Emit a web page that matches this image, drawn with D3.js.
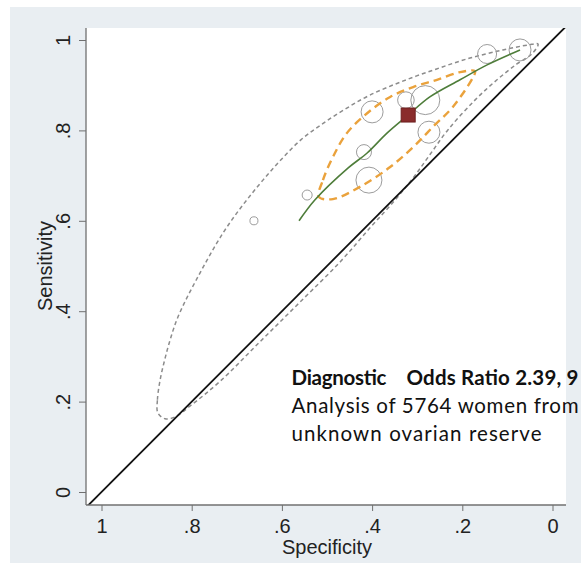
<!DOCTYPE html>
<html>
<head>
<meta charset="utf-8">
<script src="https://cdn.jsdelivr.net/npm/d3@7"></script>
<style>
  html, body { margin: 0; padding: 0; background: #ffffff; overflow: hidden; }
  svg { display: block; }
</style>
</head>
<body>
<svg id="chart" width="581" height="563"></svg>
<script>
// Individual studies: specificity, sensitivity and number of women
const studySpec = [0.662, 0.544, 0.418, 0.407, 0.400, 0.325, 0.282, 0.274, 0.145, 0.072];
const studySens = [0.600, 0.657, 0.752, 0.690, 0.841, 0.867, 0.867, 0.796, 0.969, 0.978];
const studyN    = [91, 142, 319, 958, 686, 390, 1192, 686, 512, 686];

// Summary operating point
const summarySpec = 0.320;
const summarySens = 0.834;

// HSROC summary curve
const srocSpec = [0.562, 0.527, 0.453, 0.411, 0.367, 0.320, 0.272, 0.205, 0.145, 0.072];
const srocSens = [0.600, 0.646, 0.717, 0.750, 0.794, 0.834, 0.874, 0.912, 0.945, 0.978];

// 95% confidence region around the summary point
const confSpec = [0.518, 0.509, 0.487, 0.456, 0.411, 0.360, 0.309, 0.256, 0.205, 0.172,
                  0.176, 0.221, 0.265, 0.309, 0.360, 0.427, 0.487];
const confSens = [0.653, 0.690, 0.741, 0.794, 0.838, 0.874, 0.896, 0.912, 0.929, 0.931,
                  0.918, 0.852, 0.808, 0.763, 0.719, 0.675, 0.648];

// 95% prediction region (outer edge, then inner edge back to the lower tip)
const predSpec = [0.875, 0.876, 0.870, 0.860, 0.848, 0.833, 0.813, 0.790, 0.766, 0.740,
                  0.711, 0.678, 0.642, 0.602, 0.558, 0.511, 0.460, 0.405, 0.332, 0.257,
                  0.183, 0.110, 0.054, 0.032,
                  0.046, 0.079, 0.123, 0.172, 0.232, 0.272, 0.309, 0.349, 0.405, 0.471,
                  0.560, 0.649, 0.737, 0.804, 0.837, 0.859];
const predSens = [0.175, 0.204, 0.248, 0.292, 0.336, 0.381, 0.425, 0.469, 0.513, 0.558,
                  0.602, 0.646, 0.690, 0.735, 0.779, 0.814, 0.847, 0.878, 0.909, 0.936,
                  0.960, 0.978, 0.989, 0.991,
                  0.969, 0.947, 0.912, 0.867, 0.801, 0.746, 0.695, 0.646, 0.584, 0.509,
                  0.420, 0.332, 0.245, 0.190, 0.166, 0.162];

// Axis ticks
const tickValues = [0, 0.2, 0.4, 0.6, 0.8, 1];
const tickLabels = ["0", ".2", ".4", ".6", ".8", "1"];

// Annotation text
const noteHead = "Diagnostic";
const noteLine1 = "Odds Ratio 2.39, 9";
const noteLine2 = "Analysis of 5764 women from";
const noteLine3 = "unknown ovarian reserve";

const svg = d3.select("#chart");
const W = 581, H = 563;
const plot = { left: 86, top: 28, right: 566, bottom: 505 };

const x = d3.scaleLinear().domain([1, 0]).range([101.5, 552.5]);
const y = d3.scaleLinear().domain([0, 1]).range([492, 40]);
const r = d3.scaleSqrt().domain([0, d3.max(studyN)]).range([0, 14.5]);

// Backgrounds
svg.append("rect").attr("x", 0).attr("y", 0).attr("width", W).attr("height", H).attr("fill", "#ffffff");
svg.append("rect").attr("x", 10).attr("y", 7).attr("width", W - 10).attr("height", H - 7).attr("fill", "#e9eef2");
svg.append("rect").attr("x", plot.left).attr("y", plot.top)
  .attr("width", plot.right - plot.left).attr("height", plot.bottom - plot.top).attr("fill", "#ffffff");

svg.append("clipPath").attr("id", "plotClip").append("rect")
  .attr("x", plot.left).attr("y", plot.top)
  .attr("width", plot.right - plot.left).attr("height", plot.bottom - plot.top);

const g = svg.append("g").attr("clip-path", "url(#plotClip)");

const zip = (a, b) => a.map((v, i) => [v, b[i]]);
const lineOpen = d3.line().x(d => x(d[0])).y(d => y(d[1])).curve(d3.curveCatmullRom.alpha(0.5));
const lineClosed = d3.line().x(d => x(d[0])).y(d => y(d[1])).curve(d3.curveCatmullRomClosed.alpha(0.5));

// Prediction region
g.append("path").attr("d", lineClosed(zip(predSpec, predSens)))
  .attr("fill", "none").attr("stroke", "#8c8c8c").attr("stroke-width", 1.5)
  .attr("stroke-dasharray", "4,3");

// Chance line
g.append("path").attr("d", d3.line().x(d => x(d[0])).y(d => y(d[1]))([[1.06, -0.06], [-0.06, 1.06]]))
  .attr("stroke", "#111111").attr("stroke-width", 1.8).attr("fill", "none");

// Study estimates
g.selectAll("circle.study").data(studySpec.map((s, i) => ({ s, e: studySens[i], n: studyN[i] })))
  .join("circle").attr("class", "study")
  .attr("cx", d => x(d.s)).attr("cy", d => y(d.e)).attr("r", d => r(d.n))
  .attr("fill", "none").attr("stroke", "#9c9c9c").attr("stroke-width", 1);

// Confidence region
g.append("path").attr("d", lineClosed(zip(confSpec, confSens)))
  .attr("fill", "none").attr("stroke", "#eaa23c").attr("stroke-width", 2.4)
  .attr("stroke-dasharray", "8,5");

// SROC curve
g.append("path").attr("d", lineOpen(zip(srocSpec, srocSens)))
  .attr("fill", "none").attr("stroke", "#4e7d3a").attr("stroke-width", 1.6);

// Summary point
const sq = 14;
g.append("rect").attr("x", x(summarySpec) - sq / 2).attr("y", y(summarySens) - sq / 2)
  .attr("width", sq).attr("height", sq).attr("fill", "#8a2c2c").attr("stroke", "#6e1f1f").attr("stroke-width", 1);

// Axes
const fmt = d => tickLabels[tickValues.indexOf(d)];
const axisFont = "'Liberation Sans', Arial, sans-serif";

const yAxis = svg.append("g").attr("transform", `translate(${plot.left},0)`)
  .call(d3.axisLeft(y).tickValues(tickValues).tickFormat(fmt).tickSize(7).tickSizeOuter(0));
yAxis.select(".domain").remove();
yAxis.selectAll(".tick line").attr("stroke", "#707070");
yAxis.selectAll(".tick text")
  .attr("x", 0).attr("y", 0).attr("dy", 0)
  .attr("transform", "translate(-16,0) rotate(-90)")
  .attr("text-anchor", "middle")
  .attr("font-family", axisFont).attr("font-size", 20).attr("fill", "#222");

const xAxis = svg.append("g").attr("transform", `translate(0,${plot.bottom})`)
  .call(d3.axisBottom(x).tickValues(tickValues).tickFormat(fmt).tickSize(6).tickPadding(8).tickSizeOuter(0));
xAxis.select(".domain").remove();
xAxis.selectAll(".tick line").attr("stroke", "#707070");
xAxis.selectAll(".tick text")
  .attr("font-family", axisFont).attr("font-size", 20).attr("fill", "#222");

svg.append("line").attr("x1", plot.left).attr("x2", plot.left).attr("y1", plot.top).attr("y2", plot.bottom)
  .attr("stroke", "#707070").attr("stroke-width", 1.3);
svg.append("line").attr("x1", plot.left).attr("x2", plot.right).attr("y1", plot.bottom).attr("y2", plot.bottom)
  .attr("stroke", "#707070").attr("stroke-width", 1.3);

// Axis titles
svg.append("text").attr("transform", `translate(52,${(y(0) + y(1)) / 2}) rotate(-90)`)
  .attr("text-anchor", "middle").attr("font-family", axisFont).attr("font-size", 20).attr("fill", "#222")
  .text("Sensitivity");
svg.append("text").attr("x", (x(0) + x(1)) / 2).attr("y", 554)
  .attr("text-anchor", "middle").attr("font-family", axisFont).attr("font-size", 20).attr("fill", "#222")
  .text("Specificity");

// Annotation block
const noteFont = "Lato, 'Open Sans', sans-serif";
function noteText(str, x0, width, baseline, bold) {
  return svg.append("text").attr("x", x0).attr("y", baseline)
    .attr("font-family", noteFont).attr("font-size", 20.5)
    .attr("font-weight", bold ? 700 : 400).attr("fill", "#111")
    .attr("textLength", width).attr("lengthAdjust", "spacing")
    .text(str);
}
noteText(noteHead, 291.5, 95, 385, true);
noteText(noteLine1, 406.5, 172, 385, true);
noteText(noteLine2, 291.5, 287, 413, false);
noteText(noteLine3, 291.5, 250, 441, false);
</script>
</body>
</html>
